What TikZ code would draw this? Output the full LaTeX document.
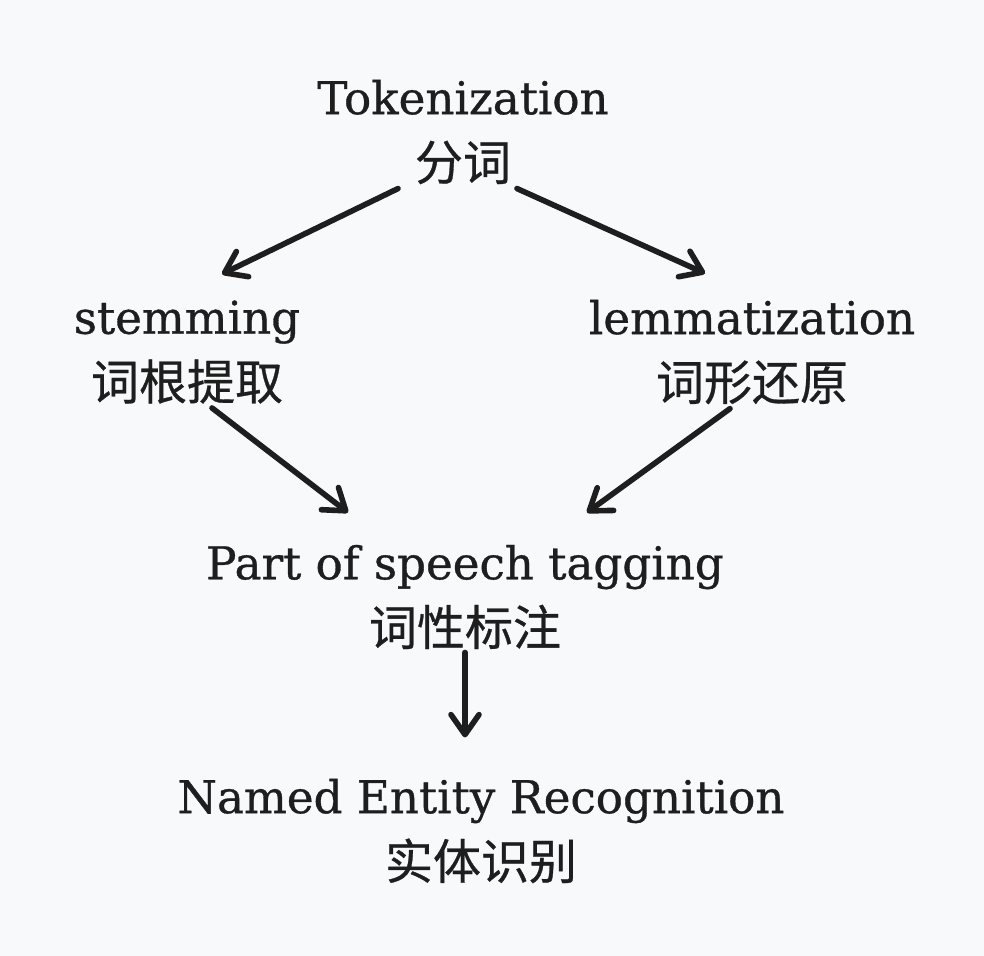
\documentclass[tikz,border=0pt]{standalone}
\usepackage{fontspec}
\setmainfont[FakeBold=0.7]{DejaVu Serif}
\newfontfamily\cjk[FakeBold=0.6]{Noto Sans CJK SC}
\usetikzlibrary{arrows.meta,positioning}

\definecolor{ink}{HTML}{1E1E1E}
\definecolor{paper}{HTML}{F8F9FA}

\tikzset{
	step label/.style={align=center,inner sep=0pt,text=ink,
		font=\fontsize{22.6}{33}\selectfont},
	flow/.style={-{Straight Barb[length=10pt,width=14pt,line cap=round,line join=round]},
		draw=ink,line width=2.8pt,line cap=round}
}
\newcommand{\zh}[1]{{\cjk\fontsize{24}{33}\selectfont #1}}

\begin{document}
\begin{tikzpicture}[x=0.5pt,y=-0.5pt]

	\fill[paper] (0,0) rectangle (984,956);
	\useasboundingbox (0,0) rectangle (984,956);

	\node[step label] (tok) at (463,132) {Tokenization\\\zh{分词}};
	\node[step label] (stem) at (187,352) {stemming\\\zh{词根提取}};
	\node[step label] (lem) at (752,352) {lemmatization\\\zh{词形还原}};
	\node[step label] (pos) at (465,597) {Part of speech tagging\\\zh{词性标注}};
	\node[step label] (ner) at (481,831) {Named Entity Recognition\\\zh{实体识别}};

	\draw[flow] ([shift={(-65,4)}]tok.south) -- ([shift={(35,-26)}]stem.north);
	\draw[flow] ([shift={(54,4)}]tok.south) -- ([shift={(-47,-26)}]lem.north);
	\draw[flow] ([shift={(25,4)}]stem.south) -- ([shift={(-117,-32)}]pos.north);
	\draw[flow] ([shift={(-22,4)}]lem.south) -- ([shift={(122,-32)}]pos.north);
	\draw[flow] ([shift={(0,3)}]pos.south) -- ([shift={(-16,-41)}]ner.north);

\end{tikzpicture}
\end{document}
